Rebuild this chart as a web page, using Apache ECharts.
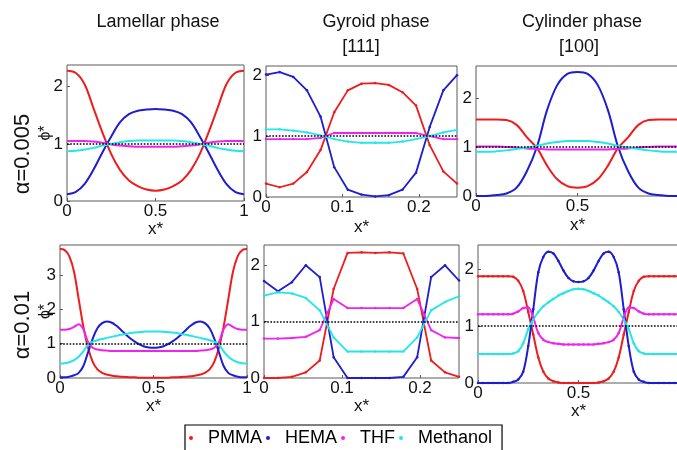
<!DOCTYPE html>
<html>
<head>
<meta charset="utf-8">
<script src="https://cdn.jsdelivr.net/npm/echarts@6/dist/echarts.min.js"></script>
<style>
html, body { margin: 0; padding: 0; background: #fff; }
#main { width: 677px; height: 450px; }
</style>
</head>
<body>
<div id="main"></div>
<script>
// x positions
const x21 = [0, 0.05, 0.1, 0.15, 0.2, 0.25, 0.3, 0.35, 0.4, 0.45, 0.5, 0.55, 0.6, 0.65, 0.7, 0.75, 0.8, 0.85, 0.9, 0.95, 1]
const x41 = [0, 0.025, 0.05, 0.075, 0.1, 0.125, 0.15, 0.175, 0.2, 0.225, 0.25, 0.275, 0.3, 0.325, 0.35, 0.375, 0.4, 0.425, 0.45, 0.475, 0.5,
    0.525, 0.55, 0.575, 0.6, 0.625, 0.65, 0.675, 0.7, 0.725, 0.75, 0.775, 0.8, 0.825, 0.85, 0.875, 0.9, 0.925, 0.95, 0.975, 1]
const xGyr = [0, 0.0179, 0.0357, 0.0536, 0.0714, 0.0893, 0.1071, 0.125, 0.1429, 0.1607, 0.1786, 0.1964, 0.2143, 0.2321, 0.25]

const species = ['PMMA', 'HEMA', 'THF', 'Methanol']
const colors = ['#ee1d1d', '#1d1dd2', '#ee24ee', '#25e6e6']
const refLevel = 1

// lamellar, alpha = 0.005
const lam1PMMA = [2.28, 2.24, 2.04, 1.62, 1.2, 0.82, 0.54, 0.36, 0.26, 0.2, 0.18, 0.2, 0.26, 0.36, 0.54, 0.82, 1.2, 1.62, 2.04, 2.24, 2.28]
const lam1HEMA = [0.12, 0.16, 0.3, 0.55, 0.85, 1.13, 1.38, 1.52, 1.58, 1.6, 1.61, 1.6, 1.58, 1.52, 1.38, 1.13, 0.85, 0.55, 0.3, 0.16, 0.12]
const lam1THF = [1.05, 1.05, 1.05, 1.04, 1.02, 0.99, 0.97, 0.96, 0.95, 0.95, 0.95, 0.95, 0.95, 0.96, 0.97, 0.99, 1.02, 1.04, 1.05, 1.05, 1.05]
const lam1MeOH = [0.87, 0.88, 0.9, 0.93, 0.97, 1.0, 1.03, 1.05, 1.06, 1.06, 1.06, 1.06, 1.06, 1.05, 1.03, 1.0, 0.97, 0.93, 0.9, 0.88, 0.87]

// gyroid [111], alpha = 0.005
const gyr1PMMA = [0.22, 0.16, 0.22, 0.41, 0.77, 1.39, 1.75, 1.86, 1.87, 1.84, 1.72, 1.5, 0.85, 0.42, 0.22]
const gyr1HEMA = [2.01, 2.05, 1.97, 1.75, 1.32, 0.49, 0.12, 0.04, 0.01, 0.03, 0.12, 0.4, 1.15, 1.75, 2.0]
const gyr1THF = [0.95, 0.95, 0.95, 0.95, 0.97, 1.05, 1.05, 1.05, 1.05, 1.05, 1.05, 1.05, 1.0, 0.95, 0.95]
const gyr1MeOH = [1.11, 1.11, 1.09, 1.06, 1.01, 0.95, 0.91, 0.89, 0.89, 0.89, 0.91, 0.95, 1.0, 1.06, 1.1]

// cylinder [100], alpha = 0.005
const cyl1PMMA = [1.56, 1.56, 1.56, 1.55, 1.45, 1.2, 0.98, 0.62, 0.34, 0.2, 0.17, 0.2, 0.34, 0.62, 0.98, 1.2, 1.45, 1.55, 1.56, 1.56, 1.56]
const cyl1HEMA = [0, 0, 0.02, 0.05, 0.17, 0.5, 1.0, 1.75, 2.26, 2.49, 2.53, 2.49, 2.26, 1.75, 1.0, 0.5, 0.17, 0.05, 0.02, 0, 0]
const cyl1THF = [1.01, 1.01, 1.01, 1.0, 0.99, 0.97, 0.96, 0.95, 0.95, 0.95, 0.95, 0.95, 0.95, 0.95, 0.96, 0.97, 0.99, 1.0, 1.01, 1.01, 1.01]
const cyl1MeOH = [0.9, 0.9, 0.91, 0.93, 0.96, 0.99, 1.02, 1.07, 1.1, 1.12, 1.12, 1.12, 1.1, 1.07, 1.02, 0.99, 0.96, 0.93, 0.91, 0.9, 0.9]

// lamellar, alpha = 0.01
const lam2PMMA = [3.76, 3.73, 3.55, 3.1, 2.3, 1.5, 0.88, 0.47, 0.25, 0.15, 0.1, 0.07, 0.05, 0.04, 0.03, 0.02, 0.02, 0.01, 0.01, 0.01, 0.01,
    0.01, 0.01, 0.01, 0.02, 0.02, 0.03, 0.04, 0.05, 0.07, 0.1, 0.15, 0.25, 0.47, 0.88, 1.5, 2.3, 3.1, 3.55, 3.73, 3.76]
const lam2HEMA = [0.02, 0.02, 0.04, 0.08, 0.15, 0.35, 0.75, 1.15, 1.45, 1.6, 1.65, 1.62, 1.53, 1.41, 1.28, 1.16, 1.06, 0.98, 0.92, 0.89, 0.88,
    0.89, 0.92, 0.98, 1.06, 1.16, 1.28, 1.41, 1.53, 1.62, 1.65, 1.6, 1.45, 1.15, 0.75, 0.35, 0.15, 0.08, 0.04, 0.02, 0.02]
const lam2THF = [1.41, 1.41, 1.43, 1.49, 1.57, 1.42, 1.05, 0.88, 0.83, 0.81, 0.8, 0.79, 0.79, 0.79, 0.79, 0.79, 0.79, 0.79, 0.79, 0.79, 0.79,
    0.79, 0.79, 0.79, 0.79, 0.79, 0.79, 0.79, 0.79, 0.79, 0.8, 0.81, 0.83, 0.88, 1.05, 1.42, 1.57, 1.49, 1.43, 1.41, 1.41]
const lam2MeOH = [0.42, 0.43, 0.46, 0.52, 0.62, 0.78, 0.97, 1.06, 1.1, 1.14, 1.17, 1.2, 1.23, 1.26, 1.28, 1.31, 1.33, 1.34, 1.35, 1.36, 1.36,
    1.36, 1.35, 1.34, 1.33, 1.31, 1.28, 1.26, 1.23, 1.2, 1.17, 1.14, 1.1, 1.06, 0.97, 0.78, 0.62, 0.52, 0.46, 0.43, 0.42]

// gyroid [111], alpha = 0.01
const gyr2PMMA = [0.0, 0.0, 0.02, 0.1, 0.31, 1.58, 2.22, 2.23, 2.22, 2.23, 2.21, 1.58, 0.31, 0.1, 0.02]
const gyr2HEMA = [1.72, 1.54, 1.7, 2.0, 1.79, 0.37, 0.0, 0.0, 0.0, 0.0, 0.02, 0.37, 1.79, 2.0, 1.73]
const gyr2THF = [0.7, 0.7, 0.71, 0.73, 0.85, 1.4, 1.24, 1.24, 1.24, 1.24, 1.24, 1.4, 0.85, 0.72, 0.71]
const gyr2MeOH = [1.46, 1.52, 1.5, 1.42, 1.2, 0.72, 0.47, 0.47, 0.47, 0.47, 0.47, 0.72, 1.2, 1.35, 1.45]

// cylinder [100], alpha = 0.01
const cyl2PMMA = [1.88, 1.88, 1.88, 1.88, 1.88, 1.88, 1.88, 1.87, 1.8, 1.62, 1.25, 0.85, 0.45, 0.2, 0.08, 0.03, 0.01, 0, 0, 0, 0,
    0, 0, 0, 0.01, 0.03, 0.08, 0.2, 0.45, 0.85, 1.25, 1.62, 1.8, 1.87, 1.88, 1.88, 1.88, 1.88, 1.88, 1.88, 1.88]
const cyl2HEMA = [0, 0, 0, 0, 0, 0, 0, 0.02, 0.06, 0.2, 0.65, 1.3, 1.95, 2.22, 2.31, 2.28, 2.15, 1.98, 1.85, 1.79, 1.78,
    1.79, 1.85, 1.98, 2.15, 2.28, 2.31, 2.22, 1.95, 1.3, 0.65, 0.2, 0.06, 0.02, 0, 0, 0, 0, 0, 0, 0]
const cyl2THF = [1.21, 1.21, 1.21, 1.21, 1.21, 1.21, 1.21, 1.22, 1.26, 1.32, 1.33, 1.15, 0.88, 0.76, 0.72, 0.7, 0.69, 0.68, 0.68, 0.68, 0.68,
    0.68, 0.68, 0.68, 0.69, 0.7, 0.72, 0.76, 0.88, 1.15, 1.33, 1.32, 1.26, 1.22, 1.21, 1.21, 1.21, 1.21, 1.21, 1.21, 1.21]
const cyl2MeOH = [0.51, 0.51, 0.51, 0.51, 0.51, 0.51, 0.51, 0.52, 0.56, 0.7, 0.95, 1.12, 1.25, 1.35, 1.42, 1.48, 1.54, 1.58, 1.62, 1.65, 1.66,
    1.65, 1.62, 1.58, 1.54, 1.48, 1.42, 1.35, 1.25, 1.12, 0.95, 0.7, 0.56, 0.52, 0.51, 0.51, 0.51, 0.51, 0.51, 0.51, 0.51]

const font = '"Liberation Sans", Arial, sans-serif'

// panel layout (pixels) + axis ranges
const panels = [
    { left: 67, top: 65, width: 177, height: 136, xs: x21, ys: [lam1PMMA, lam1HEMA, lam1THF, lam1MeOH], xmax: 1, xint: 0.5, ymax: 2.38, smooth: true, dots: false, yName: true, nameGap: 20 },
    { left: 266, top: 66, width: 191, height: 131, xs: xGyr, ys: [gyr1PMMA, gyr1HEMA, gyr1THF, gyr1MeOH], xmax: 0.25, xint: 0.1, ymax: 2.15, smooth: false, dots: true, nameGap: 22 },
    { left: 476, top: 66, width: 203, height: 130, xs: x21, ys: [cyl1PMMA, cyl1HEMA, cyl1THF, cyl1MeOH], xmax: 1, xint: 0.5, ymax: 2.65, smooth: true, dots: false, nameGap: 21 },
    { left: 60, top: 245, width: 187, height: 133, xs: x41, ys: [lam2PMMA, lam2HEMA, lam2THF, lam2MeOH], xmax: 1, xint: 0.5, ymax: 3.88, smooth: true, dots: false, yName: true, nameGap: 20 },
    { left: 264, top: 245, width: 195, height: 133, xs: xGyr, ys: [gyr2PMMA, gyr2HEMA, gyr2THF, gyr2MeOH], xmax: 0.25, xint: 0.1, ymax: 2.36, smooth: false, dots: true, nameGap: 20 },
    { left: 478, top: 245, width: 201, height: 138, xs: x41, ys: [cyl2PMMA, cyl2HEMA, cyl2THF, cyl2MeOH], xmax: 1, xint: 0.5, ymax: 2.43, smooth: true, dots: true, nameGap: 20 },
]

const chart = echarts.init(document.getElementById('main'), null, { renderer: 'canvas' })

const grid = [], xAxis = [], yAxis = [], series = []
panels.forEach((p, i) => {
    grid.push({
        left: p.left, top: p.top, width: p.width, height: p.height,
        show: true, borderColor: '#5a5a5a', borderWidth: 1, backgroundColor: 'transparent',
        containLabel: false, outerBoundsMode: 'none',
    })
    xAxis.push({
        gridIndex: i, type: 'value', min: 0, max: p.xmax, interval: p.xint,
        axisLine: { show: false },
        axisTick: { show: true, inside: true, length: 3, lineStyle: { color: '#5a5a5a' } },
        splitLine: { show: false },
        axisLabel: { fontSize: 17, color: '#111', margin: 2, fontFamily: font, showMaxLabel: p.xmax === 1 && p.left < 100, hideOverlap: false },
        name: 'x*', nameLocation: 'middle', nameGap: p.nameGap, nameMoveOverlap: false,
        nameTextStyle: { fontSize: 17, color: '#111', fontFamily: font },
    })
    yAxis.push({
        gridIndex: i, type: 'value', min: 0, max: p.ymax, interval: 1,
        axisLine: { show: false },
        axisTick: { show: true, inside: true, length: 3, lineStyle: { color: '#5a5a5a' } },
        splitLine: { show: false },
        axisLabel: { fontSize: 17, color: '#111', margin: 4, fontFamily: font, showMaxLabel: false, hideOverlap: false },
        name: p.yName ? 'ϕ*' : '', nameLocation: 'middle', nameRotate: 90, nameGap: p.left - 54, nameMoveOverlap: false,
        nameTextStyle: { fontSize: 16, color: '#111', fontFamily: font },
    })
    species.forEach((s, k) => {
        const ser = {
            type: 'line', name: s, xAxisIndex: i, yAxisIndex: i,
            data: p.xs.map((x, j) => [x, p.ys[k][j]]),
            smooth: p.smooth ? 0.35 : false,
            showSymbol: p.dots, symbol: 'circle', symbolSize: 2.5,
            color: colors[k],
            itemStyle: { color: colors[k] },
            lineStyle: { width: p.smooth ? 2 : 1.8, color: colors[k] },
            emphasis: { disabled: true },
            silent: true,
        }
        if (k === species.length - 1) {
            ser.markLine = {
                silent: true, symbol: ['none', 'none'], label: { show: false },
                lineStyle: { color: '#000', type: 'dotted', width: 1.6 },
                data: [{ yAxis: refLevel }],
            }
        }
        series.push(ser)
    })
})

const option = {
    animation: false,
    backgroundColor: '#fff',
    textStyle: { fontFamily: font },
    grid: grid,
    xAxis: xAxis,
    yAxis: yAxis,
    legend: {
        data: species, left: 185, top: 425, icon: 'circle',
        itemWidth: 14, itemHeight: 4, itemGap: 4,
        padding: [4, 10, 12, 4],
        borderColor: '#000', borderWidth: 1.2,
        textStyle: { fontSize: 18, color: '#000', fontFamily: font, padding: [0, 0, 0, 5] },
        selectedMode: false,
    },
    graphic: [
        { type: 'text', x: 158, y: 22, style: { text: 'Lamellar phase', fontSize: 18, fontFamily: font, fill: '#111', align: 'center', verticalAlign: 'middle' } },
        { type: 'text', x: 376, y: 22, style: { text: 'Gyroid phase', fontSize: 18, fontFamily: font, fill: '#111', align: 'center', verticalAlign: 'middle' } },
        { type: 'text', x: 361, y: 47, style: { text: '[111]', fontSize: 18, fontFamily: font, fill: '#111', align: 'center', verticalAlign: 'middle' } },
        { type: 'text', x: 582, y: 22, style: { text: 'Cylinder phase', fontSize: 18, fontFamily: font, fill: '#111', align: 'center', verticalAlign: 'middle' } },
        { type: 'text', x: 579, y: 47, style: { text: '[100]', fontSize: 18, fontFamily: font, fill: '#111', align: 'center', verticalAlign: 'middle' } },
        { type: 'text', x: 23, y: 154, rotation: Math.PI / 2, style: { text: 'α=0.005', fontSize: 22, fontFamily: font, fill: '#111', align: 'center', verticalAlign: 'middle' } },
        { type: 'text', x: 23, y: 325, rotation: Math.PI / 2, style: { text: 'α=0.01', fontSize: 22, fontFamily: font, fill: '#111', align: 'center', verticalAlign: 'middle' } },
    ],
    series: series,
}
chart.setOption(option)
</script>
</body>
</html>
